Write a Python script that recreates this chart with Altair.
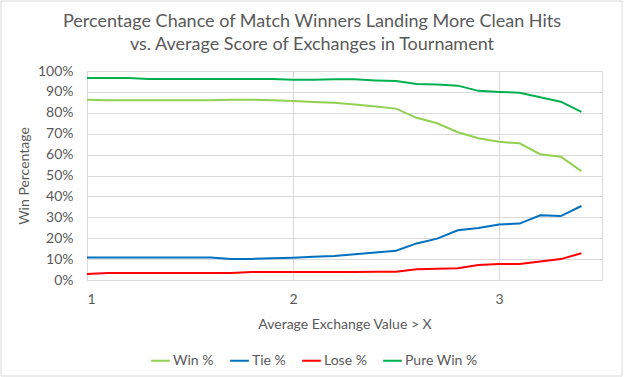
import altair as alt
import pandas as pd

x_vals = [1.0, 1.1, 1.2, 1.3, 1.4, 1.5, 1.6, 1.7, 1.8, 1.9, 2.0, 2.1, 2.2,
          2.3, 2.4, 2.5, 2.6, 2.7, 2.8, 2.9, 3.0, 3.1, 3.2, 3.3, 3.4]
win = [86.3, 86.0, 86.0, 86.0, 86.0, 86.0, 86.0, 86.3, 86.3, 86.0, 85.6, 85.2, 84.8,
       84.0, 83.0, 82.0, 77.6, 75.0, 70.7, 67.8, 66.1, 65.4, 60.2, 59.0, 52.1]
tie = [10.8, 10.8, 10.8, 10.8, 10.8, 10.8, 10.8, 10.0, 10.1, 10.4, 10.7, 11.1, 11.5,
       12.3, 13.1, 14.0, 17.5, 19.8, 23.8, 24.9, 26.6, 27.0, 31.0, 30.6, 35.4]
lose = [2.9, 3.3, 3.3, 3.3, 3.3, 3.3, 3.3, 3.4, 3.8, 3.8, 3.8, 3.8, 3.8,
        3.8, 3.9, 4.0, 5.1, 5.4, 5.6, 7.2, 7.7, 7.7, 8.8, 10.0, 12.8]
pure = [96.6, 96.6, 96.6, 96.2, 96.2, 96.2, 96.2, 96.2, 96.2, 96.2, 95.8, 95.8, 96.0,
        96.0, 95.5, 95.2, 93.8, 93.5, 93.0, 90.5, 90.0, 89.6, 87.4, 85.3, 80.4]

series_names = ["Win %", "Tie %", "Lose %", "Pure Win %"]
series_colors = ["#92D050", "#0070C0", "#FF0000", "#00B050"]
x_ticks = [1, 2, 3]
y_ticks = [0, 0.1, 0.2, 0.3, 0.4, 0.5, 0.6, 0.7, 0.8, 0.9, 1.0]
title_lines = ["Percentage Chance of Match Winners Landing More Clean Hits",
               "vs. Average Score of Exchanges in Tournament"]

rows = []
for name, vals in zip(series_names, [win, tie, lose, pure]):
    for xv, v in zip(x_vals, vals):
        rows.append({"x": xv, "value": v / 100.0, "series": name})
df = pd.DataFrame(rows)

FONT = "Lato"
GRAY = "#595959"

lines = alt.Chart(df).mark_line(strokeWidth=2).encode(
    x=alt.X("x:Q",
            scale=alt.Scale(domain=[1, 3.5], nice=False, zero=False),
            axis=alt.Axis(values=x_ticks, format="d", title="Average Exchange Value > X",
                          grid=True, gridColor="#d9d9d9", domainColor="#d9d9d9",
                          ticks=False, labelPadding=12, labelFontSize=14,
                          labelColor=GRAY, titleFontSize=14, titleColor=GRAY,
                          titleFontWeight="normal", titlePadding=11, labelFont=FONT,
                          titleFont=FONT)),
    y=alt.Y("value:Q",
            scale=alt.Scale(domain=[0, 1], nice=False),
            axis=alt.Axis(values=y_ticks, format=".0%", title="Win Percentage",
                          grid=True, gridColor="#d9d9d9", domain=False, ticks=False,
                          labelPadding=14, labelFontSize=14, labelColor=GRAY,
                          titleFontSize=14, titleColor=GRAY, titleFontWeight="normal",
                          titlePadding=6, labelFont=FONT, titleFont=FONT)),
    color=alt.Color("series:N",
                    scale=alt.Scale(domain=series_names, range=series_colors),
                    sort=series_names,
                    legend=alt.Legend(title=None, orient="none", legendX=63, legendY=279,
                                      direction="horizontal", symbolType="stroke",
                                      symbolStrokeWidth=2, symbolSize=350,
                                      labelFontSize=14, labelColor=GRAY, labelFont=FONT,
                                      labelOffset=2, columnPadding=12)),
    order=alt.Order("x:Q"),
)

one = alt.Chart(df).transform_filter("datum.x == 1 && datum.series == 'Win %'")

border = one.mark_rect(fill=None, stroke="#d9d9d9", strokeWidth=1).encode(
    x=alt.value(-86), x2=alt.value(535), y=alt.value(-70), y2=alt.value(305)
)

title1 = one.mark_text(fontSize=18, font=FONT, color=GRAY, align="center",
                       baseline="middle").encode(
    x=alt.value(225), y=alt.value(-49), text=alt.value(title_lines[0]))
title2 = one.mark_text(fontSize=18, font=FONT, color=GRAY, align="center",
                       baseline="middle").encode(
    x=alt.value(225), y=alt.value(-26), text=alt.value(title_lines[1]))

chart = alt.layer(lines, border, title1, title2).properties(
    width=515, height=209,
    autosize=alt.AutoSizeParams(type="none"),
    padding={"left": 87, "top": 71, "right": 22, "bottom": 97},
).configure_view(stroke=None).configure(background="white")

chart.save("out.html", embed_options={"renderer": "svg", "actions": False})
